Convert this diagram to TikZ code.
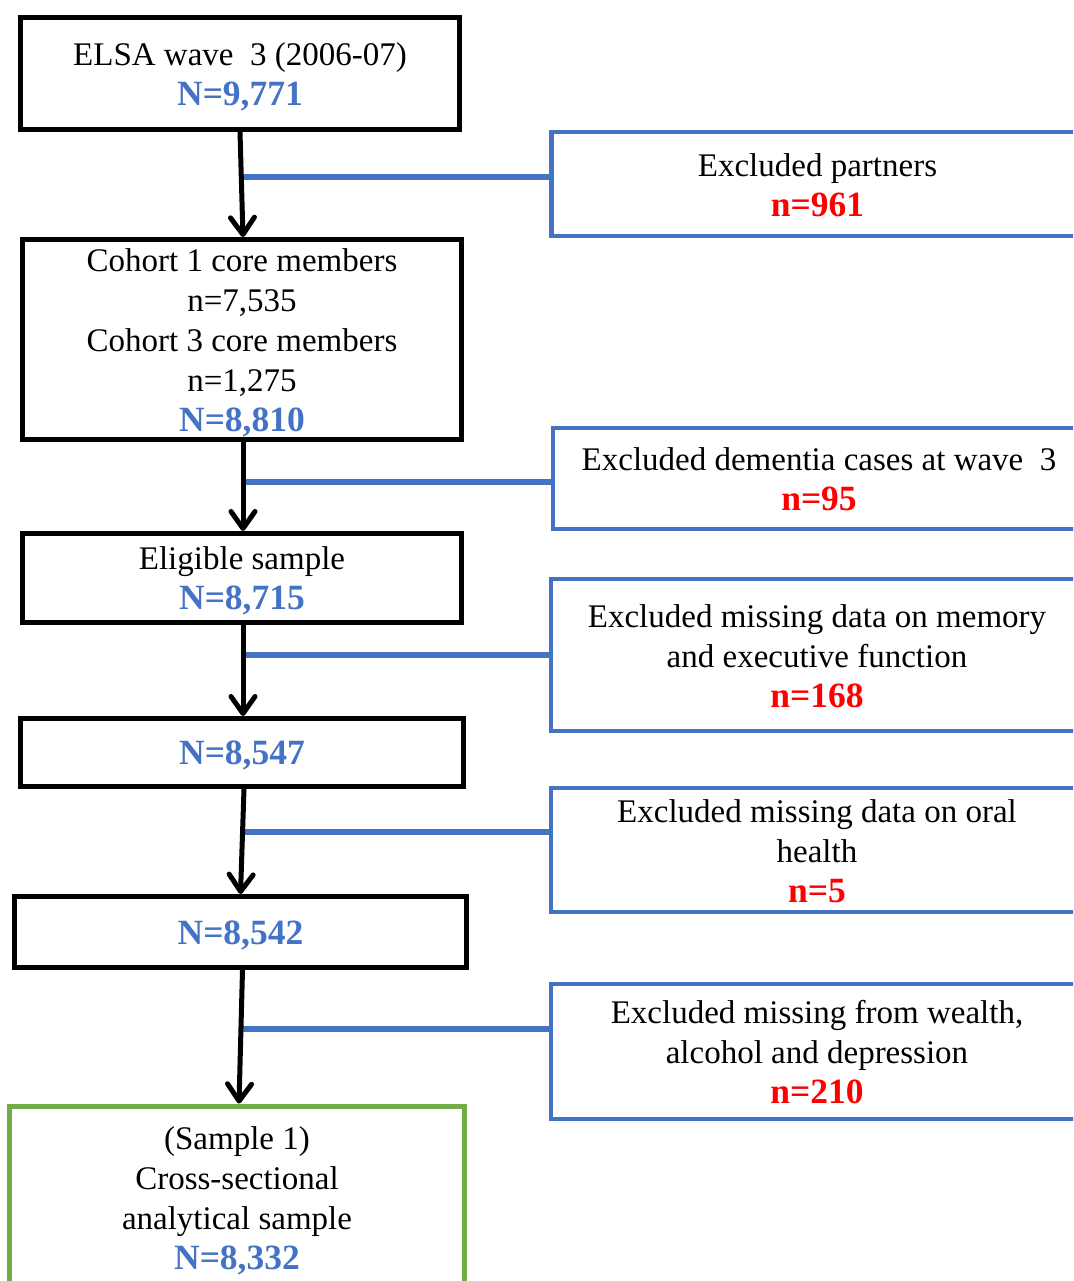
\documentclass[tikz,border=0pt]{standalone}
\usepackage{fontspec}
\setmainfont{Liberation Serif}
\usetikzlibrary{arrows.meta}
\definecolor{nblue}{HTML}{4472C4}
\definecolor{ngreen}{HTML}{70AD47}
\definecolor{nred}{HTML}{FF0000}
% bold counts in blue (samples) and red (exclusions)
\newcommand{\bigcount}[1]{{\fontsize{35.5}{40}\selectfont\bfseries\textcolor{nblue}{#1}}}
\newcommand{\lostcount}[1]{{\fontsize{35.5}{40}\selectfont\bfseries\textcolor{nred}{#1}}}
\begin{document}
\begin{tikzpicture}[x=1pt,y=-1pt,
  txt/.style={font=\fontsize{33}{40}\selectfont, align=center, inner sep=0pt},
  mtxt/.style={txt, yshift=-3pt},
  stxt/.style={txt, yshift=-1pt},
  mainbox/.style={draw=black, line width=5pt, minimum width=439pt},
  sidebox/.style={draw=nblue, line width=4.5pt, minimum width=532pt},
  endbox/.style={draw=ngreen, line width=5pt},
  flow/.style={line width=5pt, line cap=round, -{Straight Barb[length=17pt,width=24pt,line cap=round,line join=round]}},
  link/.style={draw=nblue, line width=6pt}
]
\useasboundingbox (0,0) rectangle (1073,1281);
\clip (0,0) rectangle (1073,1281);

% main column
\node[mainbox, minimum height=112pt] (b1) at (240,73.5) {};
\node[mtxt] (t1) at (b1) {ELSA wave \ 3 (2006-07)\\ \bigcount{N=9,771}};
\node[mainbox, minimum height=200pt] (b2) at (242,339.5) {};
\node[mtxt] (t2) at (b2) {Cohort 1 core members\\ n=7,535\\ Cohort 3 core members\\ n=1,275\\ \bigcount{N=8,810}};
\node[mainbox, minimum height=89pt] (b3) at (242,578) {};
\node[mtxt] (t3) at (b3) {Eligible sample\\ \bigcount{N=8,715}};
\node[mainbox, minimum width=443pt, minimum height=68pt] (b4) at (242,752.5) {};
\node[mtxt] (t4) at (b4) {\bigcount{N=8,547}};
\node[mainbox, minimum width=452pt, minimum height=71pt] (b5) at (240.5,932) {};
\node[mtxt] (t5) at (b5) {\bigcount{N=8,542}};
\node[endbox, minimum width=455pt, minimum height=184pt] (b6) at (237,1198) {};
\node[mtxt] (t6) at (b6) {(Sample 1)\\ Cross-sectional\\ analytical sample\\ \bigcount{N=8,332}};

% exclusion boxes
\node[sidebox, minimum height=104pt] (r1) at (817.5,184) {};
\node[stxt] (s1) at (r1) {Excluded partners\\ \lostcount{n=961}};
\node[sidebox, minimum height=101pt] (r2) at (819,478.5) {};
\node[stxt] (s2) at (r2) {Excluded dementia cases at wave \ 3\\ \lostcount{n=95}};
\node[sidebox, minimum height=152pt] (r3) at (817,655) {};
\node[stxt] (s3) at (r3) {Excluded missing data on memory\\ and executive function\\ \lostcount{n=168}};
\node[sidebox, minimum height=124pt] (r4) at (817,850) {};
\node[stxt] (s4) at (r4) {Excluded missing data on oral\\ health\\ \lostcount{n=5}};
\node[sidebox, minimum height=135pt] (r5) at (817,1051.5) {};
\node[stxt] (s5) at (r5) {Excluded missing from wealth,\\ alcohol and depression\\ \lostcount{n=210}};

% branch points on the flow line
\coordinate (j1) at (241,177);
\coordinate (j2) at (241,482);
\coordinate (j3) at (241,655);
\coordinate (j4) at (243,832);
\coordinate (j5) at (241,1029);

\draw[link] (j1) -- (j1 -| r1.west);
\draw[link] (j2) -- (j2 -| r2.west);
\draw[link] (j3) -- (j3 -| r3.west);
\draw[link] (j4) -- (j4 -| r4.west);
\draw[link] (j5) -- (j5 -| r5.west);

% flow arrows
\draw[flow] (b1.south) -- ([xshift=1pt]b2.north);
\draw[flow] ([xshift=1pt]b2.south) -- ([xshift=1pt]b3.north);
\draw[flow] ([xshift=1pt]b3.south) -- ([xshift=1pt]b4.north);
\draw[flow] ([xshift=2pt]b4.south) -- (b5.north);
\draw[flow] ([xshift=2pt]b5.south) -- ([xshift=2pt]b6.north);
\end{tikzpicture}
\end{document}
